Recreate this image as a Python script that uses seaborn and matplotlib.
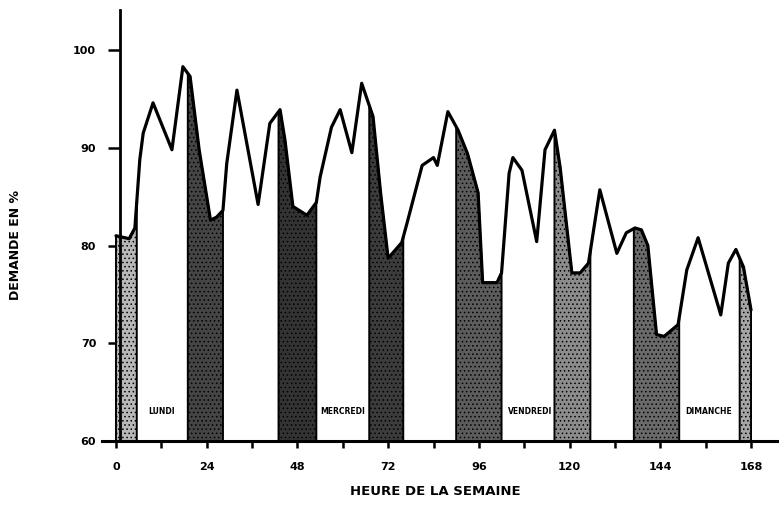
import numpy as np
import matplotlib
matplotlib.use("Agg")
import matplotlib.pyplot as plt
import seaborn as sns

# demand curve over the week (hour, % of peak)
hours = [0, 3.5, 5, 6.3, 7.2, 9.8, 14.8, 17.7, 19.6, 22, 25, 26.6, 28.3, 29.3, 32,
         37.6, 40.7, 43.4, 44.7, 46.8, 50.5, 53, 54, 57, 59.3, 62.4, 65, 68,
         70, 72, 75.6, 77, 81, 84, 85, 87.8, 90.5, 93, 95.8, 97, 100.8, 102,
         104, 105, 107.4, 111.3, 113.5, 116, 117.5, 120.6, 122.8, 125, 128,
         132.5, 135, 137.3, 139, 140.7, 143, 145, 148.7, 151, 154, 160, 162,
         164, 166, 168]
demand = [81, 80.7, 81.8, 88.8, 91.5, 94.6, 89.8, 98.3, 97.3, 89.8, 82.6, 82.9, 83.6, 88.4, 95.9,
          84.2, 92.5, 93.9, 90.8, 84, 83.1, 84.4, 87, 92.1, 93.9, 89.5, 96.6, 93.2,
          85.4, 78.7, 80.3, 82.3, 88.2, 89, 88.2, 93.7, 91.8, 89.4, 85.4, 76.2, 76.2, 77.2,
          87.4, 89, 87.7, 80.4, 89.8, 91.8, 88, 77.2, 77.2, 78.2, 85.7,
          79.2, 81.3, 81.8, 81.6, 80, 70.9, 70.7, 71.9, 77.5, 80.8, 72.9, 78.2,
          79.6, 77.8, 73.4]

# shaded night periods (start hour, end hour, grey)
band_start = [0, 19, 43, 67, 90, 116, 137, 165]
band_end = [5.5, 28.3, 53, 76, 102, 125.5, 149, 168]
band_grey = ["#b8b8b8", "#454545", "#333333", "#3c3c3c", "#5c5c5c", "#8c8c8c", "#6a6a6a", "#a5a5a5"]

day_labels = ["LUNDI", "MERCREDI", "VENDREDI", "DIMANCHE"]
day_pos = [12, 60, 109.5, 156.8]

xticks = [0, 24, 48, 72, 96, 120, 144, 168]
yticks = [60, 70, 80, 90, 100]

sns.set_style("ticks")
plt.rcParams["hatch.linewidth"] = 0.6
plt.rcParams["text.color"] = "black"
plt.rcParams["axes.labelcolor"] = "black"
plt.rcParams["xtick.color"] = "black"
plt.rcParams["ytick.color"] = "black"
plt.rcParams["axes.edgecolor"] = "black"

fig = plt.figure(figsize=(7.79, 5.12), dpi=100)
ax = fig.add_axes([102 / 779, 71 / 512, 677 / 779, 431 / 512])

h = np.array(hours)
d = np.array(demand)
for s, e, g in zip(band_start, band_end, band_grey):
    xs = np.concatenate([[s], h[(h > s) & (h < e)], [e]])
    ys = np.interp(xs, h, d)
    ax.fill_between(xs, 60, ys, facecolor=g, edgecolor="black", hatch="....", linewidth=1.4)

sns.lineplot(x=hours, y=demand, ax=ax, color="black", linewidth=2.3, zorder=5)

for lab, p in zip(day_labels, day_pos):
    ax.text(p, 63, lab, ha="center", va="center", fontsize=5.5, fontweight="bold",
            bbox=dict(facecolor="white", edgecolor="none", pad=0.5), zorder=6)

ax.set_xlim(-3.7, 175.4)
ax.set_ylim(60, 104.1)
ax.spines["left"].set_position(("data", 1))
ax.spines["top"].set_visible(False)
ax.spines["right"].set_visible(False)
ax.spines["left"].set_linewidth(2)
ax.spines["bottom"].set_linewidth(2.2)

ax.set_xticks(xticks)
ax.set_xticks([12, 36, 60, 84, 108, 132, 156], minor=True)
ax.set_yticks(yticks)
ax.set_xticklabels([str(t) for t in xticks], fontweight="bold", fontsize=8)
ax.set_yticklabels([str(t) for t in yticks], fontweight="bold", fontsize=8)
ax.tick_params(axis="x", which="both", direction="out", length=5, width=1.8, pad=10)
ax.tick_params(axis="y", direction="out", length=9, width=1.8, pad=8)

ax.set_xlabel("HEURE DE LA SEMAINE", fontweight="bold", fontsize=9.5)
ax.set_ylabel("DEMANDE EN %", fontweight="bold", fontsize=9)
ax.xaxis.set_label_coords((435 - 102) / 677, -(485 - 441) / 431)
ax.yaxis.set_label_coords(-(102 - 22) / 677, (441 - 245) / 431)

fig.savefig("out.png", dpi=100, facecolor="white")
